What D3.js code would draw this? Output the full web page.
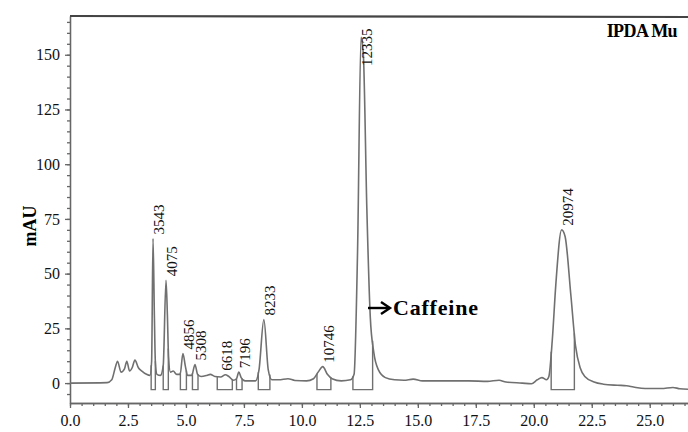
<!DOCTYPE html>
<html>
<head>
<meta charset="utf-8">
<script src="https://cdnjs.cloudflare.com/ajax/libs/d3/7.8.5/d3.min.js"></script>
<style>
  body { margin: 0; background: #fff; }
  svg { display: block; }
</style>
</head>
<body>
<div id="chart"></div>
<script>
// chromatogram trace (min, mAU)
const times = [0, 1.6, 1.8, 1.95, 2.05, 2.2, 2.35, 2.45, 2.57, 2.68, 2.8, 2.95, 3.1, 3.3, 3.45,
  3.52, 3.58, 3.64, 3.68, 3.75, 3.9, 4.02, 4.14, 4.2, 4.25, 4.33, 4.45, 4.6, 4.75, 4.87, 4.97,
  5.07, 5.25, 5.39, 5.5, 5.65, 5.9, 6.05, 6.25, 6.5, 6.7, 6.85, 7.05, 7.18, 7.28, 7.38, 7.55,
  8.0, 8.15, 8.36, 8.55, 8.7, 9.0, 9.4, 9.7, 10.2, 10.5, 10.7, 10.9, 11.1, 11.3, 11.7, 12.1,
  12.25, 12.4, 12.55, 12.65, 12.8, 12.95, 13.1, 13.3, 13.6, 14.0, 14.4, 14.8, 15.2, 15.9, 16.5,
  17.2, 18.0, 18.5, 18.8, 19.5, 19.9, 20.15, 20.35, 20.55, 20.65, 20.8, 20.95, 21.2, 21.35, 21.6,
  21.8, 22.0, 22.2, 22.6, 23.0, 23.6, 24.0, 24.3, 24.8, 25.5, 26.0, 26.3, 26.65];
const mau = [0, 0.2, 1.5, 7, 10, 5, 6.5, 10, 5.5, 7, 10.5, 7, 5.5, 4, 3.5,
  10, 66, 30, 10, 4, 3.5, 8, 47, 31, 12, 5, 5.5, 4, 4, 13.5, 8,
  3.5, 3.5, 8.5, 4, 3, 3.5, 4, 3, 2.8, 3.8, 3, 1.3, 2, 5, 2.5, 1,
  1, 6, 29, 6, 1.5, 1.5, 2, 1.2, 1, 2, 5, 7.5, 4, 2, 1, 1.5,
  4, 60, 158, 150, 80, 30, 14, 6, 2.5, 1.5, 1.3, 1.8, 1, 1, 1,
  1, 0.8, 1.3, 0.5, 0, -0.3, 1.5, 2.5, 1.5, 3, 20, 45, 70, 67, 40,
  17, 7, 3, 0.5, -0.5, -1, -1.2, -1.8, -2.5, -2.5, -2, -2.6, -2.8];

// integrated peaks
const peakNames = ["3543", "4075", "4856", "5308", "6618", "7196", "8233", "10746", "12335", "20974"];
const peakTimes = [3.58, 4.14, 4.87, 5.39, 6.5, 7.28, 8.36, 10.9, 12.55, 21.2];
const peakHeights = [66, 47, 13.5, 8.5, 3.8, 5, 29, 7.5, 158, 70];
const peakStart = [3.5, 4.02, 4.76, 5.28, 6.35, 7.18, 8.12, 10.65, 12.2, 20.75];
const peakEnd = [3.68, 4.24, 5.02, 5.52, 7.0, 7.42, 8.62, 11.25, 13.05, 21.75];

const yTicks = [0, 25, 50, 75, 100, 125, 150];
const xTicks = [0, 2.5, 5, 7.5, 10, 12.5, 15, 17.5, 20, 22.5, 25];

const width = 688, height = 432;
const plotLeft = 70, plotRight = 688, plotTop = 16, plotBottom = 403;
const dropBase = -3;
const serif = "'Liberation Serif', 'Times New Roman', serif";

const svg = d3.select("#chart").append("svg")
  .attr("width", width)
  .attr("height", height)
  .style("font-family", serif);

svg.append("rect").attr("width", width).attr("height", height).attr("fill", "#fff");

const x = d3.scaleLinear().domain([0, 26.65]).range([plotLeft, plotRight]);
const y = d3.scaleLinear().domain([-9.1, 167.7]).range([plotBottom, plotTop]);

// minor ticks first, then the labelled ones
svg.append("g")
  .attr("transform", `translate(${plotLeft},0)`)
  .call(d3.axisLeft(y).tickValues(d3.range(-5, 166, 5)).tickSize(3).tickSizeOuter(0).tickFormat(""));
svg.append("g")
  .attr("transform", `translate(${plotLeft},0)`)
  .call(d3.axisLeft(y).tickValues(yTicks).tickSize(5).tickSizeOuter(0).tickPadding(5).tickFormat(d3.format("d")));

svg.append("g")
  .attr("transform", `translate(0,${plotBottom})`)
  .call(d3.axisBottom(x).tickValues(d3.range(0, 26.6, 0.5)).tickSize(3).tickSizeOuter(0).tickFormat(""));
svg.append("g")
  .attr("transform", `translate(0,${plotBottom})`)
  .call(d3.axisBottom(x).tickValues(xTicks).tickSize(5).tickSizeOuter(0).tickPadding(7).tickFormat(d3.format(".1f")));

svg.selectAll(".domain, .tick line").attr("stroke", "#666").attr("stroke-width", 1.3);
svg.selectAll(".tick text").attr("font-size", 16).attr("fill", "#111").attr("font-family", serif);

// top frame line
svg.append("line")
  .attr("x1", plotLeft).attr("x2", plotRight)
  .attr("y1", plotTop).attr("y2", plotTop + 1)
  .attr("stroke", "#444").attr("stroke-width", 2.2);

// trace
const points = times.map((t, i) => [t, mau[i]]);
const line = d3.line().x(d => x(d[0])).y(d => y(d[1])).curve(d3.curveMonotoneX);
svg.append("path")
  .datum(points)
  .attr("d", line)
  .attr("fill", "none")
  .attr("stroke", "#707070")
  .attr("stroke-width", 1.6);

// integration drop lines under each peak
const traceAt = t => {
  const i = d3.bisectLeft(times, t);
  if (i <= 0) return mau[0];
  const t0 = times[i - 1], t1 = times[i];
  return mau[i - 1] + (mau[i] - mau[i - 1]) * (t - t0) / (t1 - t0);
};
peakNames.forEach((name, i) => {
  const s = peakStart[i], e = peakEnd[i];
  svg.append("path")
    .datum([[s, traceAt(s)], [s, dropBase], [e, dropBase], [e, traceAt(e)]])
    .attr("d", d3.line().x(d => x(d[0])).y(d => y(d[1])))
    .attr("fill", "none")
    .attr("stroke", "#707070")
    .attr("stroke-width", 1.4);
});

// peak labels, rotated
svg.append("g").selectAll("text")
  .data(peakNames)
  .enter().append("text")
  .attr("transform", (d, i) => {
    const py = Math.max(y(peakHeights[i]) - 4, 66);
    return `translate(${x(peakTimes[i]) + 6},${py}) rotate(-90)`;
  })
  .attr("dy", "0.35em")
  .attr("font-size", 15)
  .attr("fill", "#111")
  .text(d => d);

svg.append("text")
  .attr("transform", "translate(30,226) rotate(-90)")
  .attr("text-anchor", "middle")
  .attr("dy", "0.35em")
  .attr("font-size", 18)
  .attr("font-weight", "bold")
  .text("mAU");

svg.append("text")
  .attr("x", 677).attr("y", 37)
  .attr("text-anchor", "end")
  .attr("font-size", 18)
  .attr("font-weight", "bold")
  .attr("letter-spacing", "-0.6px")
  .text("IPDA Mu");

// caffeine annotation: arrow + label
svg.append("line")
  .attr("x1", 368).attr("x2", 388)
  .attr("y1", 308).attr("y2", 308)
  .attr("stroke", "#000").attr("stroke-width", 2.4);
svg.append("path")
  .attr("d", "M381,302 L390,308 L381,314")
  .attr("fill", "none").attr("stroke", "#000").attr("stroke-width", 2.4);
svg.append("text")
  .attr("x", 393).attr("y", 315)
  .attr("font-size", 22)
  .attr("font-weight", "bold")
  .attr("letter-spacing", "0.8px")
  .text("Caffeine");
</script>
</body>
</html>
